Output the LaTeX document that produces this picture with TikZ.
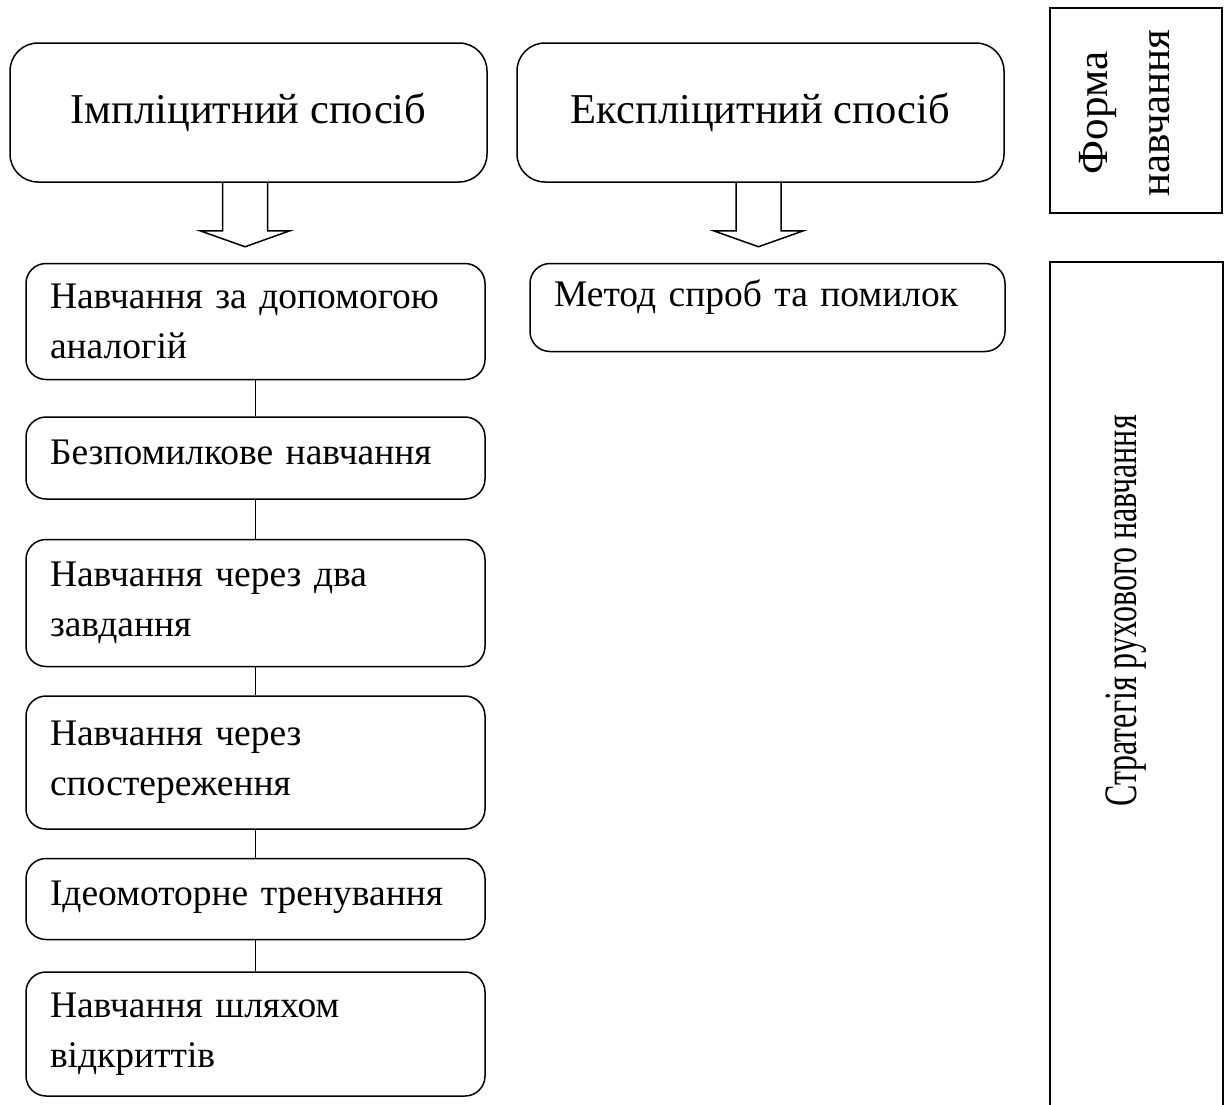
\documentclass[tikz,border=0pt]{standalone}
\usepackage{fontspec}
\setmainfont{Liberation Serif}
\usepackage{graphicx}
\usepackage{tikz}
\usetikzlibrary{positioning, calc}

\begin{document}
\begin{tikzpicture}[
		x=1pt, y=-1pt,
		every node/.style={font=\fontsize{37.5}{50}\selectfont},
		head/.style={rectangle, draw, line width=1.5pt, rounded corners=28pt, minimum height=139pt, font=\fontsize{42.5}{50}\selectfont},
		item/.style={rectangle, draw, line width=1.5pt, rounded corners=20pt, minimum width=459pt, text width=411pt, inner xsep=24pt, align=left},
		oneline/.style={text height=26pt, text depth=13pt},
		side/.style={rectangle, draw, line width=1.5pt},
		link/.style={line width=1.5pt},
		hollow/.style={draw, line width=1.5pt, line join=miter}
		]
		\useasboundingbox (0,0) rectangle (1226,1104);
		
		% Nodes
		\node[head, minimum width=477pt] (impl) at (248.5,112.5) {Імпліцитний спосіб};
		\node[head, minimum width=487pt] (expl) at (760.5,112.5) {Експліцитний спосіб};
		
		\node[item, minimum height=116pt, below=80pt of impl, xshift=7pt] (analog) {Навчання за допомогою\\аналогій};
		\node[item, oneline, minimum height=82pt, below=36pt of analog] (errless) {Безпомилкове навчання};
		\node[item, minimum height=127pt, below=39pt of errless] (dual) {Навчання через два\\завдання};
		\node[item, minimum height=133pt, below=28pt of dual] (observe) {Навчання через\\спостереження};
		\node[item, oneline, minimum height=81pt, below=28pt of observe] (ideo) {Ідеомоторне тренування};
		\node[item, minimum height=124pt, below=31pt of ideo] (discover) {Навчання шляхом\\відкриттів};
		
		\node[item, minimum width=475pt, text width=427pt, minimum height=88pt, text height=23pt, text depth=25pt, below=80pt of expl, xshift=7pt] (trial) {Метод спроб та помилок};
		
		% Side labels
		\node[side, minimum width=172pt, minimum height=205pt] (forma) at (1136,110.5) {};
		\node[rotate=90, font=\fontsize{43}{62}\selectfont] (formatext) at (1126,113) {\begin{tabular}{@{}c@{}}Форма\\навчання\end{tabular}};
		\node[side, minimum width=173pt, minimum height=844pt] (strat) at (1136.5,684) {};
		\node[rotate=90, font=\fontsize{32}{38}\selectfont] (strattext) at (1126,611) {\scalebox{1}[1.45]{Стратегія рухового навчання}};
		
		% Hollow arrows
		\foreach \src/\dx in {impl/-26, expl/-24.5}
		\draw[hollow] ([xshift=\dx pt]\src.south) -- ++(0,48) -- ++(-22.5,0) -- ++(45,16) -- ++(45,-16) -- ++(-22.5,0) -- ++(0,-48);
		
		% Links
		\draw[link] (analog) -- (errless);
		\draw[link] (errless) -- (dual);
		\draw[link] (dual) -- (observe);
		\draw[link] (observe) -- (ideo);
		\draw[link] (ideo) -- (discover);
		
	\end{tikzpicture}
\end{document}
